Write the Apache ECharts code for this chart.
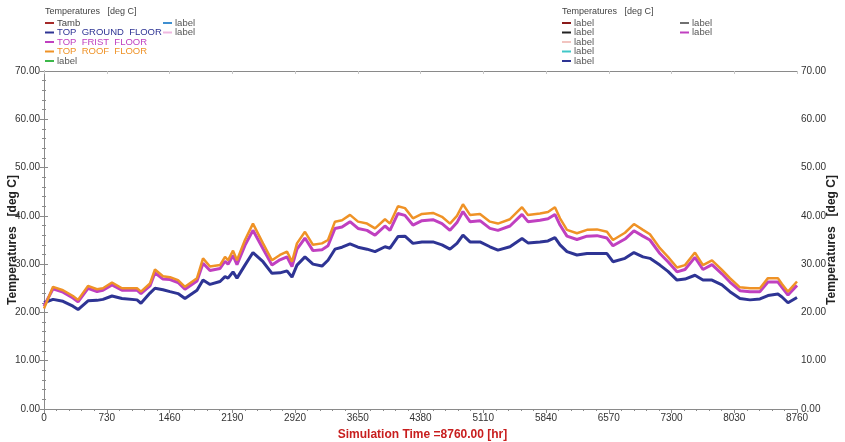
<!DOCTYPE html>
<html>
<head>
    <meta charset="utf-8" />
    <title></title>
    <script src="https://cdn.jsdelivr.net/npm/echarts@6/dist/echarts.min.js"></script>
    <style>
        html, body { margin: 0; padding: 0; background: #fff; }
        #container { width: 845px; height: 442px; }
    </style>
</head>
<body>
    <div id="container"></div>
    <script>
        // simulation hours of the read samples
        var hours = [0, 105, 221, 337, 396, 512, 617, 686, 791, 907, 1082, 1128, 1233, 1291, 1384, 1466, 1559, 1640, 1780, 1850,
            1931, 2048, 2106, 2141, 2199, 2245, 2338, 2431, 2548, 2652, 2745, 2827, 2885, 2943, 3036, 3129, 3234, 3304, 3385, 3467,
            3560, 3653, 3758, 3851, 3967, 4025, 4118, 4199, 4292, 4397, 4525, 4630, 4723, 4804, 4874, 4956, 5072, 5188, 5281, 5421,
            5561, 5630, 5770, 5863, 5944, 6003, 6084, 6200, 6317, 6433, 6549, 6619, 6759, 6863, 6968, 7049, 7165, 7259, 7364, 7457,
            7573, 7666, 7771, 7887, 7980, 8096, 8213, 8329, 8422, 8538, 8585, 8655, 8760];

        var groundFloor = [22.0, 22.7, 22.3, 21.3, 20.6, 22.4, 22.5, 22.7, 23.4, 22.9, 22.6, 21.9, 24.0, 25.0, 24.7, 24.3, 23.9, 22.9, 24.6, 26.7,
            25.8, 26.4, 27.4, 27.1, 28.4, 27.1, 29.8, 32.4, 30.5, 28.1, 28.2, 28.6, 27.3, 29.8, 31.5, 30.0, 29.6, 30.8, 33.1, 33.5,
            34.2, 33.5, 33.1, 32.6, 33.6, 33.3, 35.7, 35.8, 34.3, 34.6, 34.6, 34.0, 33.1, 34.3, 36.0, 34.6, 34.6, 33.6, 32.9, 33.6,
            35.3, 34.4, 34.6, 34.8, 35.5, 34.0, 32.6, 31.9, 32.2, 32.2, 32.2, 30.5, 31.2, 32.4, 31.5, 31.2, 29.8, 28.5, 26.7, 26.9,
            27.7, 26.7, 26.7, 25.7, 24.3, 22.9, 22.6, 22.8, 23.5, 23.8, 23.2, 22.0, 23.1];

        var firstFloor = [21.3, 24.9, 24.2, 23.0, 22.2, 25.0, 24.3, 24.6, 25.7, 24.6, 24.6, 23.9, 25.5, 28.2, 26.9, 26.8, 26.2, 24.8, 26.5, 30.2,
            28.7, 29.1, 30.6, 30.0, 31.8, 29.9, 33.9, 37.0, 33.2, 29.8, 30.9, 31.5, 29.5, 33.1, 35.4, 32.8, 33.0, 33.8, 37.4, 37.7,
            38.8, 37.4, 37.0, 36.0, 37.9, 37.0, 40.5, 40.1, 38.1, 39.0, 39.2, 38.4, 37.0, 38.6, 40.9, 38.8, 39.0, 37.4, 37.0, 37.9,
            40.3, 38.8, 39.1, 39.4, 40.3, 38.1, 35.8, 35.1, 35.8, 35.9, 35.4, 33.8, 35.2, 36.9, 35.8, 35.0, 32.2, 30.5, 28.4, 28.9,
            31.4, 28.9, 29.9, 28.0, 26.3, 24.5, 24.3, 24.3, 26.3, 26.3, 25.2, 23.6, 25.6];

        var roofFloor = [20.8, 25.3, 24.6, 23.4, 22.6, 25.5, 24.8, 25.0, 26.2, 25.0, 25.0, 24.3, 26.0, 28.9, 27.5, 27.3, 26.7, 25.3, 27.1, 31.2,
            29.5, 29.8, 31.5, 30.8, 32.8, 30.8, 35.0, 38.4, 34.3, 30.8, 31.9, 32.6, 30.5, 34.3, 36.7, 34.0, 34.3, 35.0, 38.8, 39.1,
            40.2, 38.8, 38.4, 37.4, 39.3, 38.4, 42.0, 41.6, 39.5, 40.4, 40.6, 39.8, 38.4, 40.0, 42.4, 40.2, 40.4, 38.8, 38.4, 39.3,
            41.8, 40.2, 40.5, 40.8, 41.8, 39.5, 37.1, 36.4, 37.1, 37.2, 36.7, 35.0, 36.5, 38.3, 37.1, 36.2, 33.3, 31.5, 29.3, 29.8,
            32.4, 29.8, 30.8, 28.8, 27.1, 25.2, 25.0, 25.0, 27.1, 27.1, 25.9, 24.3, 26.4];

        var leftLegend = [
            { name: 'Tamb', color: '#a52a2a', text: '#444' },
            { name: 'TOP  GROUND  FLOOR', color: '#2e3494', text: '#2e3494' },
            { name: 'TOP  FRIST  FLOOR', color: '#c040c0', text: '#c040c0' },
            { name: 'TOP  ROOF  FLOOR', color: '#ef9226', text: '#ef9226' },
            { name: 'label', color: '#3cb84a', text: '#555' }
        ];
        var leftLegend2 = [
            { name: 'label', color: '#3f8fd0', text: '#555' },
            { name: 'label', color: '#f0b8e0', text: '#555' }
        ];
        var rightLegend = [
            { name: 'label', color: '#8b1a1a', text: '#555' },
            { name: 'label', color: '#222222', text: '#555' },
            { name: 'label', color: '#f2c4c0', text: '#555' },
            { name: 'label', color: '#40c8c8', text: '#555' },
            { name: 'label', color: '#2e3494', text: '#555' }
        ];
        var rightLegend2 = [
            { name: 'label', color: '#707070', text: '#555' },
            { name: 'label', color: '#c040c0', text: '#555' }
        ];

        function pairs(vals) {
            return hours.map(function (h, i) { return [h, vals[i]]; });
        }

        function legendBlock(items, x, y0) {
            var out = [];
            items.forEach(function (it, i) {
                var y = y0 + i * 9.5;
                out.push({
                    type: 'line', silent: true,
                    shape: { x1: x, y1: y, x2: x + 9, y2: y },
                    style: { stroke: it.color, lineWidth: 2 }
                });
                out.push({
                    type: 'text', silent: true, x: x + 12, y: y,
                    style: {
                        text: it.name, fill: it.text, verticalAlign: 'middle',
                        font: '9.5px "Liberation Sans", Arial'
                    }
                });
            });
            return out;
        }

        var graphics = [
            { type: 'text', x: 45, y: 12, style: { text: 'Temperatures   [deg C]', fill: '#444', verticalAlign: 'middle', font: '9px "Liberation Sans", Arial' } },
            { type: 'text', x: 562, y: 12, style: { text: 'Temperatures   [deg C]', fill: '#444', verticalAlign: 'middle', font: '9px "Liberation Sans", Arial' } }
        ]
            .concat(legendBlock(leftLegend, 45, 23))
            .concat(legendBlock(leftLegend2, 163, 23))
            .concat(legendBlock(rightLegend, 562, 23))
            .concat(legendBlock(rightLegend2, 680, 23));

        var axisCol = '#8a8a8a';
        var labelFont = { color: '#333', fontSize: 10, fontFamily: '"Liberation Sans", Arial' };

        function yAxis(pos) {
            return {
                type: 'value', position: pos, min: 0, max: 70, interval: 10,
                name: 'Temperatures   [deg C]', nameLocation: 'middle', nameGap: pos === 'left' ? 25 : 29,
                nameRotate: 90, nameMoveOverlap: false,
                nameTextStyle: { color: '#222', fontSize: 12, fontWeight: 'bold', fontFamily: '"Liberation Sans", Arial' },
                axisLine: { show: true, lineStyle: { color: axisCol } },
                axisTick: { show: true, length: 4, lineStyle: { color: axisCol } },
                minorTick: { show: true, splitNumber: 5, length: 2, lineStyle: { color: axisCol } },
                splitLine: { show: false },
                axisLabel: Object.assign({ margin: 4, formatter: function (v) { return v.toFixed(2); } }, labelFont)
            };
        }

        var dom = document.getElementById('container');
        var myChart = echarts.init(dom, null, { renderer: 'canvas' });
        var option = {
            backgroundColor: '#fff',
            animation: false,
            grid: { left: 44, right: 48, top: 71, bottom: 33, containLabel: false, outerBoundsMode: 'none' },
            title: {
                text: 'Simulation Time =8760.00 [hr]', left: 'center', top: 424,
                textStyle: { color: '#c81e1e', fontSize: 12, fontWeight: 'bold', fontFamily: '"Liberation Sans", Arial' }
            },
            graphic: graphics,
            xAxis: [{
                type: 'value', min: 0, max: 8760, interval: 730, position: 'bottom',
                axisLine: { show: true, onZero: false, lineStyle: { color: axisCol } },
                axisTick: { show: true, length: 4, lineStyle: { color: axisCol } },
                minorTick: { show: true, splitNumber: 5, length: 2, lineStyle: { color: axisCol } },
                splitLine: { show: false },
                axisLabel: Object.assign({ margin: 4, formatter: function (v) { return String(v); } }, labelFont)
            }, {
                type: 'value', min: 0, max: 8760, interval: 730, position: 'top',
                axisLine: { show: true, onZero: false, lineStyle: { color: axisCol } },
                axisTick: { show: true, inside: true, length: 3, lineStyle: { color: '#c8c8c8' } },
                splitLine: { show: false },
                axisLabel: { show: false }
            }],
            yAxis: [yAxis('left'), yAxis('right')],
            series: [
                { name: 'TOP GROUND FLOOR', type: 'line', data: pairs(groundFloor), showSymbol: false,
                    lineStyle: { color: '#2e3494', width: 3 } },
                { name: 'TOP FRIST FLOOR', type: 'line', data: pairs(firstFloor), showSymbol: false,
                    lineStyle: { color: '#c040c0', width: 3 } },
                { name: 'TOP ROOF FLOOR', type: 'line', data: pairs(roofFloor), showSymbol: false,
                    lineStyle: { color: '#ef9226', width: 2.5 } }
            ]
        };
        myChart.setOption(option);
    </script>
</body>
</html>
